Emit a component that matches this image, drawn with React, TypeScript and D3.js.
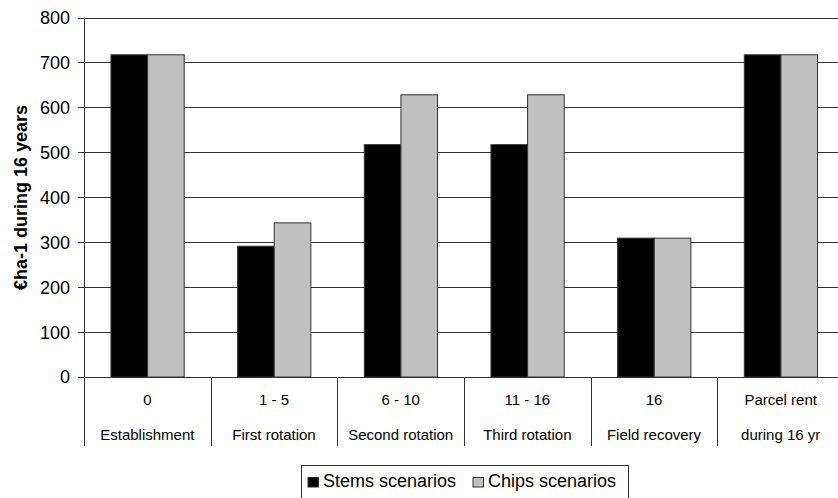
import React from "react";
import * as d3 from "d3";

const categoriesTop = ["0", "1 - 5", "6 - 10", "11 - 16", "16", "Parcel rent"];
const categoriesBottom = [
  "Establishment",
  "First rotation",
  "Second rotation",
  "Third rotation",
  "Field recovery",
  "during 16 yr",
];
const seriesNames = ["Stems scenarios", "Chips scenarios"];
const stemsValues = [717, 291, 517, 517, 309, 717];
const chipsValues = [717, 343, 628, 628, 309, 717];
const yTicks = [0, 100, 200, 300, 400, 500, 600, 700, 800];
const seriesColors = ["#000000", "#c0c0c0"];

const W = 838;
const H = 498;
const plotLeft = 84;
const plotRight = 844;
const plotTop = 17.5;
const plotBottom = 377;
const dividerBottom = 446;
const font = "'Liberation Sans', Arial, sans-serif";

export default function App() {
  const idx = categoriesTop.map((_, i) => String(i));
  const x0 = d3.scaleBand<string>().domain(idx).range([plotLeft, plotRight]).padding(0);
  const bw = x0.bandwidth();
  const x1 = d3
    .scaleBand<string>()
    .domain(seriesNames)
    .range([bw * 0.213, bw * 0.791])
    .padding(0);
  const y = d3.scaleLinear().domain([0, 800]).range([plotBottom, plotTop]);
  const seriesValues = [stemsValues, chipsValues];

  return (
    <svg
      width={W}
      height={H}
      style={{ position: "fixed", left: 0, top: 0, background: "#fff" }}
      fontFamily={font}
    >
      <rect x={0} y={0} width={W} height={H} fill="#fff" />
      {/* horizontal gridlines */}
      {yTicks.map((t) => (
        <line
          key={"g" + t}
          x1={plotLeft}
          x2={plotRight}
          y1={Math.round(y(t)) + 0.5}
          y2={Math.round(y(t)) + 0.5}
          stroke="#333"
          strokeWidth={1}
        />
      ))}
      {/* y tick marks and labels */}
      {yTicks.map((t) => (
        <g key={"t" + t}>
          <line
            x1={plotLeft - 6}
            x2={plotLeft}
            y1={Math.round(y(t)) + 0.5}
            y2={Math.round(y(t)) + 0.5}
            stroke="#333"
          />
          <text
            x={70}
            y={y(t)}
            dy="0.36em"
            textAnchor="end"
            fontSize={18}
            fill="#000"
          >
            {t}
          </text>
        </g>
      ))}
      {/* bars */}
      {idx.map((c, i) => (
        <g key={"b" + c} transform={`translate(${x0(c)},0)`}>
          {seriesNames.map((s, j) => {
            const v = seriesValues[j][i];
            return (
              <rect
                key={s}
                x={x1(s)}
                y={y(v)}
                width={x1.bandwidth()}
                height={y(0) - y(v)}
                fill={seriesColors[j]}
                stroke="#333"
                strokeWidth={1}
              />
            );
          })}
        </g>
      ))}
      {/* axes */}
      <line
        x1={plotLeft + 0.5}
        x2={plotLeft + 0.5}
        y1={plotTop}
        y2={dividerBottom}
        stroke="#333"
      />
      <line
        x1={plotLeft}
        x2={plotRight}
        y1={Math.round(y(0)) + 0.5}
        y2={Math.round(y(0)) + 0.5}
        stroke="#333"
      />
      {idx.map((c) => (
        <line
          key={"d" + c}
          x1={Math.round((x0(c) as number) + bw) + 0.5}
          x2={Math.round((x0(c) as number) + bw) + 0.5}
          y1={plotBottom}
          y2={dividerBottom}
          stroke="#333"
        />
      ))}
      {/* category labels */}
      {idx.map((c, i) => (
        <g key={"l" + c}>
          <text
            x={(x0(c) as number) + bw / 2}
            y={405}
            textAnchor="middle"
            fontSize={15}
            fill="#000"
          >
            {categoriesTop[i]}
          </text>
          <text
            x={(x0(c) as number) + bw / 2}
            y={439.5}
            textAnchor="middle"
            fontSize={15}
            fill="#000"
          >
            {categoriesBottom[i]}
          </text>
        </g>
      ))}
      {/* y axis title */}
      <text
        transform={`translate(27,197.5) rotate(-90)`}
        textAnchor="middle"
        fontSize={18}
        fontWeight="bold"
        fill="#000"
      >
        €ha-1 during 16 years
      </text>
      {/* legend */}
      <rect
        x={301.5}
        y={465.5}
        width={327}
        height={40}
        fill="#fff"
        stroke="#333"
        strokeWidth={1}
      />
      <rect x={308} y={477.5} width={10.5} height={9.5} fill={seriesColors[0]} stroke="#333" />
      <text x={323} y={486.7} fontSize={18} fill="#000">
        {seriesNames[0]}
      </text>
      <rect x={473} y={477.5} width={10.5} height={9.5} fill={seriesColors[1]} stroke="#333" />
      <text x={488} y={486.7} fontSize={18} fill="#000">
        {seriesNames[1]}
      </text>
    </svg>
  );
}
